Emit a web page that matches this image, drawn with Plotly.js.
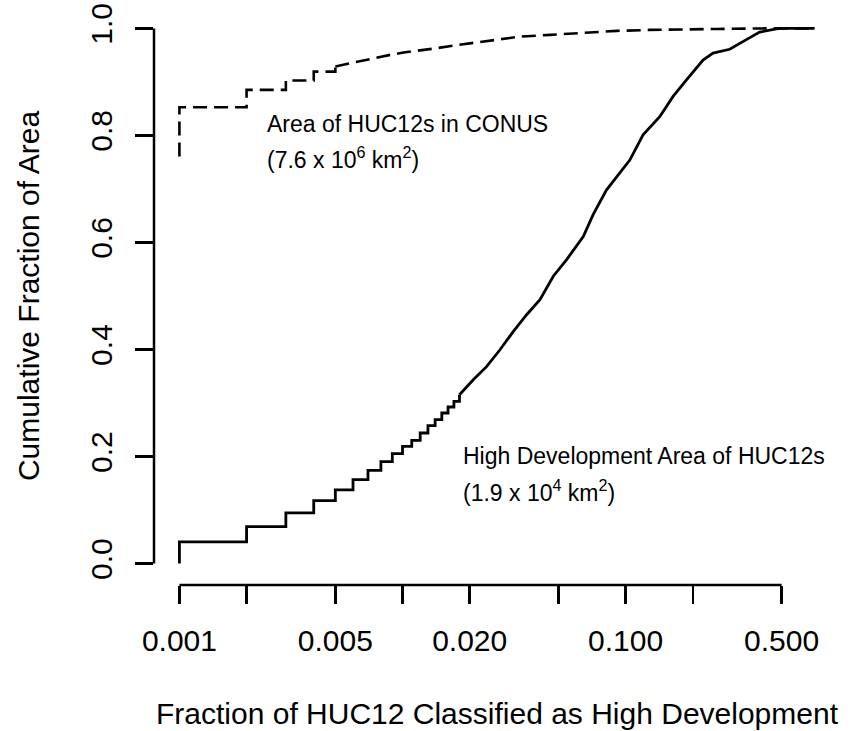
<!DOCTYPE html>
<html><head><meta charset="utf-8">
<script src="https://cdn.plot.ly/plotly-3.0.1.min.js"></script>
<style>html,body{margin:0;padding:0;background:#fff}</style>
</head><body><div id="chart" style="width:856px;height:731px"></div>
<script>
// High Development Area of HUC12s: visible step part (each 0.001 increment)
const devStepX = [0.001, 0.001, 0.002, 0.003, 0.004, 0.005, 0.006, 0.007, 0.008, 0.009, 0.010, 0.011, 0.012, 0.013, 0.014, 0.015, 0.016, 0.017, 0.018];
const devStepY = [0.000, 0.0405, 0.069, 0.0946, 0.1176, 0.1376, 0.157, 0.174, 0.1905, 0.2054, 0.219, 0.2303, 0.244, 0.2577, 0.269, 0.2814, 0.2926, 0.303, 0.3156];
// High Development: dense part of the curve
const devTailX = [0.018, 0.0208, 0.0238, 0.0274, 0.0314, 0.036, 0.0413, 0.0474, 0.0544, 0.0646, 0.0715, 0.082, 0.1044, 0.1197, 0.1422, 0.1632, 0.1874, 0.2223, 0.2465, 0.2927, 0.3476, 0.3988, 0.4734, 0.5, 0.703];
const devTailY = [0.3156, 0.344, 0.368, 0.400, 0.434, 0.465, 0.493, 0.537, 0.568, 0.611, 0.652, 0.698, 0.754, 0.801, 0.835, 0.873, 0.904, 0.941, 0.954, 0.961, 0.979, 0.993, 0.999, 1.0, 1.0];
// Area of HUC12s in CONUS
const conusStepX = [0.001, 0.001, 0.002, 0.003, 0.004, 0.005];
const conusStepY = [0.7606, 0.8528, 0.8852, 0.9026, 0.9193, 0.929];
const conusTailX = [0.005, 0.006, 0.0072, 0.0088, 0.0101, 0.012, 0.0142, 0.0169, 0.0201, 0.0238, 0.0293, 0.0336, 0.0458, 0.0643, 0.091, 0.128, 0.18, 0.255, 0.427, 0.703];
const conusTailY = [0.929, 0.9362, 0.9425, 0.9505, 0.9549, 0.9585, 0.963, 0.9679, 0.9723, 0.9772, 0.9815, 0.9847, 0.9879, 0.9922, 0.9953, 0.9972, 0.9985, 0.999, 1.0, 1.0];

const xTickVals = [0.001, 0.002, 0.005, 0.01, 0.02, 0.05, 0.1, 0.2, 0.5];
const xTickText = ["0.001", "", "0.005", "", "0.020", "", "0.100", "", "0.500"];
const yTickVals = [0, 0.2, 0.4, 0.6, 0.8, 1.0];
const yTickText = ["0.0", "0.2", "0.4", "0.6", "0.8", "1.0"];

const labelConus = ["Area of HUC12s in CONUS", "(7.6 x 10<sup>6</sup> km<sup>2</sup>)"];
const labelDev = ["High Development Area of HUC12s", "(1.9 x 10<sup>4</sup> km<sup>2</sup>)"];

const FONT = "Liberation Sans, Arial, sans-serif";
const allX = devStepX.concat(devTailX, conusStepX, conusTailX);
const allY = devStepY.concat(devTailY, conusStepY, conusTailY);
const lxMin = Math.log10(Math.min(...allX)), lxMax = Math.log10(Math.max(...allX));
const yMin = Math.min(...allY), yMax = Math.max(...allY);
const ext = 0.04;
const xr = [lxMin - ext * (lxMax - lxMin), lxMax + ext * (lxMax - lxMin)];
const yr = [yMin - ext * (yMax - yMin), yMax + ext * (yMax - yMin)];

const solid = {color: "#000", width: 2.8};
const dashed = {color: "#000", width: 2.6, dash: "14px,7px"};
const traces = [
  {x: devStepX, y: devStepY, mode: "lines", line: Object.assign({shape: "hv"}, solid), hoverinfo: "skip"},
  {x: devTailX, y: devTailY, mode: "lines", line: Object.assign({shape: "linear"}, solid), hoverinfo: "skip"},
  {x: conusStepX, y: conusStepY, mode: "lines", line: Object.assign({shape: "hv"}, dashed), hoverinfo: "skip"},
  {x: conusTailX, y: conusTailY, mode: "lines", line: Object.assign({shape: "linear"}, dashed), hoverinfo: "skip"}
];

const layout = {
  width: 856, height: 731,
  margin: {l: 154, r: 16, t: 7, b: 146},
  paper_bgcolor: "#fff", plot_bgcolor: "#fff",
  showlegend: false,
  font: {family: FONT, color: "#000", size: 30},
  xaxis: {
    type: "log", range: xr, showgrid: false, zeroline: false, showline: false,
    tickmode: "array", tickvals: xTickVals, ticktext: xTickText,
    ticks: "outside", ticklen: 18, tickwidth: 2.5, tickcolor: "#000",
    ticklabelstandoff: 11,
    tickfont: {family: FONT, size: 30, color: "#000"},
    title: {text: "Fraction of HUC12 Classified as High Development", font: {family: FONT, size: 30, color: "#000"}, standoff: 46}
  },
  yaxis: {
    range: yr, showgrid: false, zeroline: false, showline: false,
    tickmode: "array", tickvals: yTickVals, ticktext: yTickText, tickangle: -90,
    ticks: "outside", ticklen: 18, tickwidth: 2.5, tickcolor: "#000",
    ticklabelstandoff: 11,
    tickfont: {family: FONT, size: 30, color: "#000"},
    title: {text: "Cumulative Fraction of Area", font: {family: FONT, size: 30, color: "#000"}, standoff: 36}
  },
  shapes: [
    {type: "line", xref: "x", yref: "paper", x0: xTickVals[0], x1: xTickVals[xTickVals.length - 1], y0: 0, y1: 0, line: {color: "#000", width: 2.5}},
    {type: "line", xref: "paper", yref: "y", x0: 0, x1: 0, y0: yTickVals[0], y1: yTickVals[yTickVals.length - 1], line: {color: "#000", width: 2.5}}
  ],
  annotations: [
    {x: Math.log10(0.00243), y: 0.822, xref: "x", yref: "y", text: labelConus[0], showarrow: false, xanchor: "left", yanchor: "middle", font: {family: FONT, size: 23, color: "#000"}},
    {x: Math.log10(0.00243), y: 0.758, xref: "x", yref: "y", text: labelConus[1], showarrow: false, xanchor: "left", yanchor: "middle", font: {family: FONT, size: 23, color: "#000"}},
    {x: Math.log10(0.0183), y: 0.2017, xref: "x", yref: "y", text: labelDev[0], showarrow: false, xanchor: "left", yanchor: "middle", font: {family: FONT, size: 23, color: "#000"}},
    {x: Math.log10(0.0183), y: 0.1363, xref: "x", yref: "y", text: labelDev[1], showarrow: false, xanchor: "left", yanchor: "middle", font: {family: FONT, size: 23, color: "#000"}}
  ]
};

Plotly.newPlot("chart", traces, layout, {displayModeBar: false, staticPlot: true});
</script></body></html>
